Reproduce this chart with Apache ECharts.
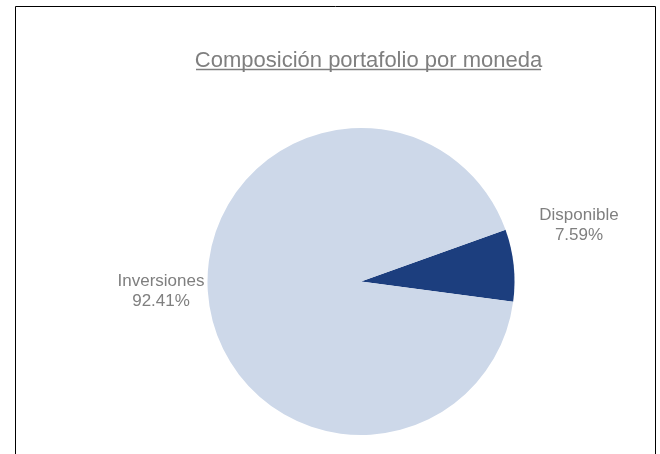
<!DOCTYPE html>
<html>
<head>
<meta charset="utf-8">
<script src="https://cdn.jsdelivr.net/npm/echarts@6/dist/echarts.min.js"></script>
<style>
html,body{margin:0;padding:0;background:#fff;}
#c{width:660px;height:454px;}
</style>
</head>
<body>
<div id="c"></div>
<script>
const titleText = 'Composición portafolio por moneda';
const categories = ['Disponible', 'Inversiones'];
const values = [7.59, 92.41];
const colors = ['#1C3E7E', '#CDD8E9'];

const chart = echarts.init(document.getElementById('c'), null, {renderer: 'canvas'});
const labelPos = [[579, 225], [161, 291]];
chart.setOption({
  animation: false,
  title: {
    text: titleText,
    left: 363.5,
    top: 45,
    textAlign: 'center',
    textStyle: {fontFamily: 'Liberation Sans, Arial, sans-serif', fontSize: 22, fontWeight: 'normal', color: '#7F7F7F'}
  },
  graphic: [
    {type: 'rect', shape: {x: 15.5, y: 6.5, width: 640, height: 470}, style: {fill: 'none', stroke: '#000', lineWidth: 1}, z: 100},
    {type: 'line', shape: {x1: 196, y1: 69.5, x2: 541, y2: 69.5}, style: {stroke: '#7F7F7F', lineWidth: 1.5}}
  ],
  series: [{
    type: 'pie',
    center: [361, 281.5],
    radius: 153.5,
    startAngle: 19.7,
    clockwise: true,
    avoidLabelOverlap: false,
    itemStyle: {borderWidth: 0},
    emphasis: {disabled: true},
    label: {
      show: true,
      position: 'outside',
      formatter: function (p) { return p.name + '\n' + p.value.toFixed(2) + '%'; },
      fontFamily: 'Liberation Sans, Arial, sans-serif',
      fontSize: 17,
      lineHeight: 20,
      color: '#7F7F7F',
      align: 'center'
    },
    labelLine: {show: false},
    labelLayout: function (params) {
      const p = labelPos[params.dataIndex];
      return {x: p[0], y: p[1], align: 'center', verticalAlign: 'middle'};
    },
    data: categories.map((c, i) => ({name: c, value: values[i], itemStyle: {color: colors[i]}}))
  }]
});
</script>
</body>
</html>
